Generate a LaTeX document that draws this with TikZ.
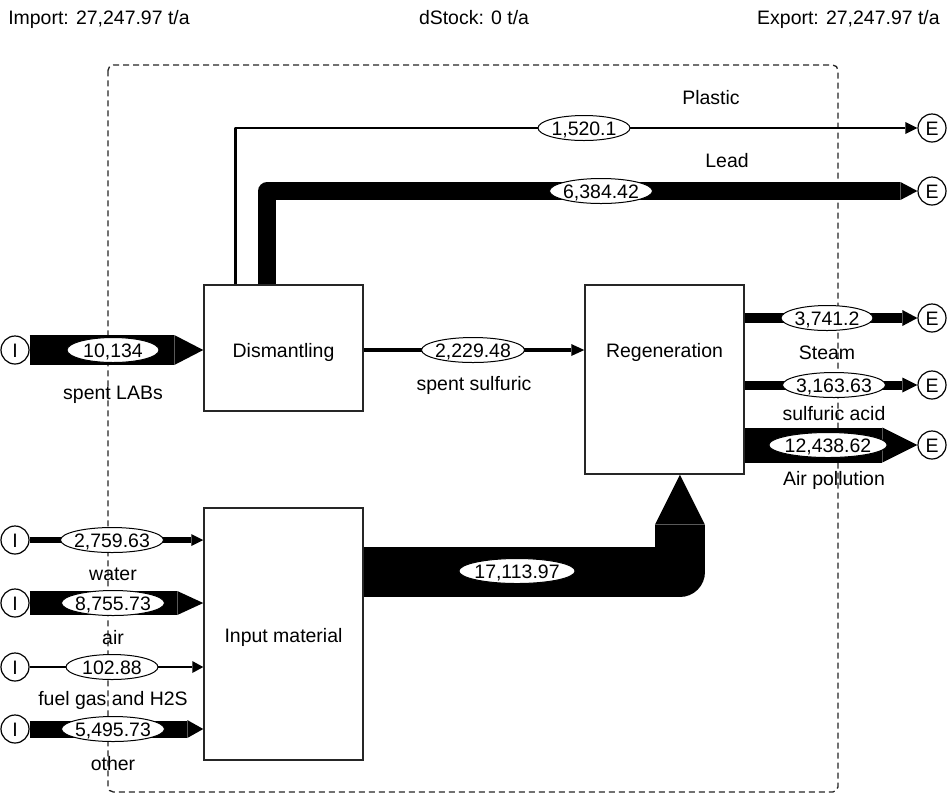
\documentclass[tikz,border=0pt]{standalone}
\usepackage{fontspec}
\setmainfont{Liberation Sans}
\usetikzlibrary{arrows.meta,shapes.geometric}
\tikzset{
  ah/.style 2 args={-{Triangle[length=#1,width=#2,line width=0pt]}},
}
\begin{document}
\begin{tikzpicture}[x=0.75pt,y=-0.75pt,
  every node/.style={font=\fontsize{14.6}{17}\selectfont},
  box/.style={draw=black!85, line width=1.1pt, fill=white, inner sep=0pt, minimum width=119.25pt},
  val/.style={ellipse, draw=black, line width=0.75pt, fill=white, inner xsep=-1.1pt, inner ysep=0pt, text height=10.5pt, text depth=0pt, minimum width=69pt, minimum height=18.75pt},
  lbl/.style={inner sep=0pt, text height=10.5pt, text depth=0pt},
  term/.style={circle, draw=black, line width=0.9pt, fill=white, minimum size=21pt, inner sep=0pt, text height=10.5pt, text depth=0pt},
  flow/.style={draw=black, line join=round, line cap=butt},
  sysb/.style={draw=black!85, line width=1pt, dash pattern=on 4.5pt off 3pt, rounded corners=4pt}
]
\fill[white] (0,0) rectangle (952,794);
\useasboundingbox (0,0) rectangle (952,794);

% header
\node[lbl, anchor=west] (imp) at (8,17) {Import: 27,247.97 t/a};
\node[lbl] (dst) at (474,17) {dStock: 0 t/a};
\node[lbl, anchor=east] (exp) at (940,17) {Export: 27,247.97 t/a};

% system boundary
\draw[sysb] (108,65) rectangle (838,792);

% processes
\node[box, minimum height=94.5pt] (dis) at (283.5,348) {};
\node[box, minimum height=141.75pt] (reg) at (664.5,379.5) {};
\node[box, minimum height=189pt] (inp) at (283.5,634) {};
\node[lbl] (dist) at (283.5,350) {Dismantling};
\node[lbl] (regt) at (664.5,350) {Regeneration};
\node[lbl] (inpt) at (283.5,635) {Input material};

% terminals
\node[term] (E1) at (932,128) {E};
\node[term] (E2) at (932,191) {E};
\node[term] (E3) at (932,318) {E};
\node[term] (E4) at (932,385) {E};
\node[term] (E5) at (932,445) {E};
\node[term] (I1) at (15,350) {I};
\node[term] (I2) at (15,540) {I};
\node[term] (I3) at (15,603) {I};
\node[term] (I4) at (15,667) {I};
\node[term] (I5) at (15,729) {I};

% flows
\draw[flow, line width=1.9pt, ah={9pt}{9pt}] ([xshift=24pt]dis.north west) |- (E1);
\draw[flow, line width=13.5pt, ah={12.75pt}{13.5pt}] ([xshift=48pt]dis.north west) |- (E2);
\draw[flow, line width=22.5pt, ah={21.75pt}{22.5pt}] (I1) -- (I1 -| dis.west);
\draw[flow, line width=3pt, ah={9.75pt}{9pt}] (dis.east |- I1) -- (I1 -| reg.west);
\draw[flow, line width=7.5pt, ah={11.25pt}{12pt}] (reg.east |- E3) -- (E3);
\draw[flow, line width=6.75pt, ah={11.25pt}{11.25pt}] (reg.east |- E4) -- (E4);
\draw[flow, line width=26.25pt, ah={26.25pt}{26.25pt}] (reg.east |- E5) -- (E5);
\draw[flow, line width=4.5pt, ah={9pt}{9pt}] (I2) -- (I2 -| inp.west);
\draw[flow, line width=18pt, ah={19.5pt}{18pt}] (I3) -- (I3 -| inp.west);
\draw[flow, line width=1pt, ah={8.25pt}{9pt}] (I4) -- (I4 -| inp.west);
\draw[flow, line width=12.75pt, ah={12pt}{13.5pt}] (I5) -- (I5 -| inp.west);
\draw[flow, line width=37.5pt, ah={37.5pt}{37.5pt}] ([yshift=46.5pt]inp.east) -| ([xshift=11.6pt]reg.south);

% values
\node[val] (v1) at (584,128) {1,520.1};
\node[val] (v2) at (601,191) {6,384.42};
\node[val] (v3) at (113,350) {10,134};
\node[val] (v4) at (473,350) {2,229.48};
\node[val] (v5) at (827,318) {3,741.2};
\node[val] (v6) at (834,385) {3,163.63};
\node[val] (v7) at (828,445) {12,438.62};
\node[val] (v8) at (517,571) {17,113.97};
\node[val] (v9) at (112,540) {2,759.63};
\node[val] (v10) at (113,603) {8,755.73};
\node[val] (v11) at (112,667) {102.88};
\node[val] (v12) at (113,729) {5,495.73};

% flow names
\node[lbl] (l1) at (711,97) {Plastic};
\node[lbl] (l2) at (727,160) {Lead};
\node[lbl] (l3) at (113,392) {spent LABs};
\node[lbl] (l4) at (474,383) {spent sulfuric};
\node[lbl] (l5) at (827,352) {Steam};
\node[lbl] (l6) at (834,413) {sulfuric acid};
\node[lbl] (l7) at (834,478) {Air pollution};
\node[lbl] (l8) at (113,573) {water};
\node[lbl] (l9) at (113,637) {air};
\node[lbl] (l10) at (113,698) {fuel gas and H2S};
\node[lbl] (l11) at (113,763) {other};
\end{tikzpicture}
\end{document}
